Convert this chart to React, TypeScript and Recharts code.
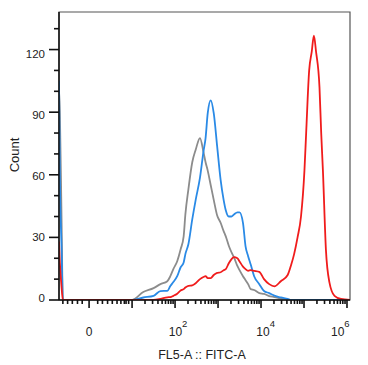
import { Line, LineChart, ReferenceArea, XAxis, YAxis } from "recharts";

// channel position on the biexponential display axis (1 unit = 1 decade, 0 = zero)
const channel = [
  -0.7, -0.68, -0.64, -0.61, 0, 1.0, 1.26, 1.5, 1.66, 1.82, 1.89, 1.96, 2.05, 2.13, 2.2, 2.24,
  2.31, 2.4, 2.48, 2.58, 2.66, 2.71, 2.76, 2.83, 2.9, 2.98, 3.06, 3.13, 3.18, 3.25, 3.31, 3.37,
  3.45, 3.5, 3.58, 3.64, 3.7, 3.76, 3.84, 3.96, 4.07, 4.19, 4.31, 4.46, 4.62, 4.7, 4.77, 4.85,
  4.93, 5.01, 5.05, 5.12, 5.18, 5.23, 5.28, 5.36, 5.4, 5.44, 5.51, 5.59, 5.71, 5.86, 6.07,
];

const grayCounts = [
  100, 90, 38, 0, 0, 0, 3.8, 5.7, 7.6, 9, 11.4, 14.8, 18.6, 24.3, 30.5, 41,
  53, 66, 72, 77.6, 71, 66, 62, 55, 48, 40.5, 37, 33, 30.5, 26, 23, 20.5,
  16.3, 14.3, 11.4, 9.5, 7.6, 5.2, 4.8, 3.3, 2.9, 1.9, 1.4, 0.7, 0, 0, 0, 0,
  0, 0, 0, 0, 0, 0, 0, 0, 0, 0, 0, 0, 0, 0, 0,
];

const blueCounts = [
  105, 60, 25, 0, 0, 0, 1.2, 2, 4.3, 4.4, 6.7, 8.6, 11.4, 15.7, 18, 22,
  26.7, 38.6, 48, 58.6, 71, 77.6, 89.5, 95.7, 89.5, 73.5, 57.6, 48, 43, 40, 40, 41,
  42, 42, 37, 25.7, 21, 17, 11.4, 7.6, 4.3, 3.3, 2.1, 1.2, 0.5, 0, 0, 0,
  0, 0, 0, 0, 0, 0, 0, 0, 0, 0, 0, 0, 0, 0, 0,
];

const redCounts = [
  28, 18, 6, 0, 0, 0, 0, 0, 0.5, 1.3, 1.4, 2, 3, 4.5, 5.2, 6,
  6.8, 7, 8, 10, 11, 11.4, 10.5, 10.5, 12, 13, 13.3, 14.3, 14.8, 17.6, 19.5, 20.5,
  20, 18.5, 16, 14.8, 14, 14.3, 14, 13.5, 10, 7.6, 6.5, 9, 12, 16.8, 22, 30,
  40, 62, 80, 110, 119, 126.7, 119, 102, 80, 62, 24, 8.6, 2, 0.5, 0,
];

const X_MIN = -0.7;
const X_MAX = 6.07;
const Y_MAX = 138;

const negativeTicks = [-0.61, -0.5, -0.39, -0.27, -0.16];
const lowTicks = [0.2, 0.31, 0.43, 0.54, 0.65, 0.74, 0.82, 0.86, 0.92];
const decades = [0, 1, 2, 3, 4, 5, 6];
const yTicks = [0, 10, 20, 30, 40, 50, 60, 70, 80, 90, 100, 110, 120, 130];

// label "10" start offset from its tick, per labelled decade
const decadeLabelDx: Record<number, number> = { 2: -6.3, 4: -4.7, 6: -16 };

const xTicks: number[] = [...negativeTicks, ...lowTicks, ...decades];
for (let d = 1; d < 6; d++) {
  for (let k = 2; k < 10; k++) xTicks.push(d + Math.log10(k));
}
xTicks.sort((a, b) => a - b);

const rows = channel.map((x, i) => ({
  x,
  gray: grayCounts[i],
  blue: blueCounts[i],
  red: redCounts[i],
}));

const FONT = "'Liberation Sans', Arial, sans-serif";

function XTick({ x, y, payload }: any) {
  const v = payload.value as number;
  const major = Number.isInteger(v);
  return (
    <g>
      <line x1={x} x2={x} y1={y} y2={y + (major ? 8 : 4)} stroke="#111" strokeWidth={1.6} />
      {v === 0 && (
        <text x={x} y={y + 36} textAnchor="middle" fontSize={12} fontFamily={FONT} fill="#222">
          0
        </text>
      )}
      {major && v > 0 && v % 2 === 0 && (
        <text x={x + decadeLabelDx[v]} y={y + 36} fontSize={12} fontFamily={FONT} fill="#222">
          <tspan>10</tspan>
          <tspan dy={-9} fontSize={9.5}>
            {v}
          </tspan>
        </text>
      )}
    </g>
  );
}

function YTick({ x, y, payload }: any) {
  const v = payload.value as number;
  const major = v % 30 === 0;
  // labels drift slightly from their ticks in the original export
  const shift = -2.5 + (v / 30) * 1.6;
  return (
    <g>
      <line x1={x} x2={x - (major ? 10 : 5)} y1={y} y2={y} stroke="#111" strokeWidth={1.6} />
      {major && (
        <text x={x - 14} y={y + shift + 4.2} textAnchor="end" fontSize={11.5} fontFamily={FONT} fill="#222">
          {v}
        </text>
      )}
    </g>
  );
}

export default function App() {
  return (
    <div style={{ position: "relative", width: 360, height: 357 }}>
      <LineChart width={360} height={357} data={rows} margin={{ top: 4, right: 18, left: 0, bottom: 0 }}>
        <XAxis
          dataKey="x"
          type="number"
          domain={[X_MIN, X_MAX]}
          allowDataOverflow
          ticks={xTicks}
          interval={0}
          tickSize={0}
          tickMargin={0}
          tickLine={false}
          axisLine={{ stroke: "#111", strokeWidth: 1.5 }}
          height={65}
          tick={<XTick />}
        />
        <YAxis
          type="number"
          domain={[0, Y_MAX]}
          allowDataOverflow
          ticks={yTicks}
          interval={0}
          tickSize={0}
          tickMargin={0}
          tickLine={false}
          axisLine={{ stroke: "#111", strokeWidth: 1.5 }}
          width={51}
          tick={<YTick />}
        />
        <ReferenceArea
          x1={X_MIN}
          x2={X_MAX}
          y1={0}
          y2={Y_MAX}
          fill="none"
          stroke="#555"
          strokeWidth={1.2}
          ifOverflow="visible"
        />
        <Line dataKey="gray" stroke="#8c8c8c" strokeWidth={1.8} dot={false} type="monotone" isAnimationActive={false} />
        <Line dataKey="blue" stroke="#2a8ae6" strokeWidth={1.8} dot={false} type="monotone" isAnimationActive={false} />
        <Line dataKey="red" stroke="#f01c1c" strokeWidth={1.8} dot={false} type="monotone" isAnimationActive={false} />
      </LineChart>
      <svg
        width={360}
        height={357}
        style={{ position: "absolute", left: 0, top: 0, pointerEvents: "none" }}
      >
        <text
          x={10.5}
          y={147}
          transform="rotate(-90 10.5 147)"
          textAnchor="middle"
          fontSize={13}
          fontFamily={FONT}
          fill="#222"
        >
          Count
        </text>
        <text x={194} y={351} textAnchor="middle" fontSize={12.5} fontFamily={FONT} fill="#222">
          FL5-A :: FITC-A
        </text>
      </svg>
    </div>
  );
}
